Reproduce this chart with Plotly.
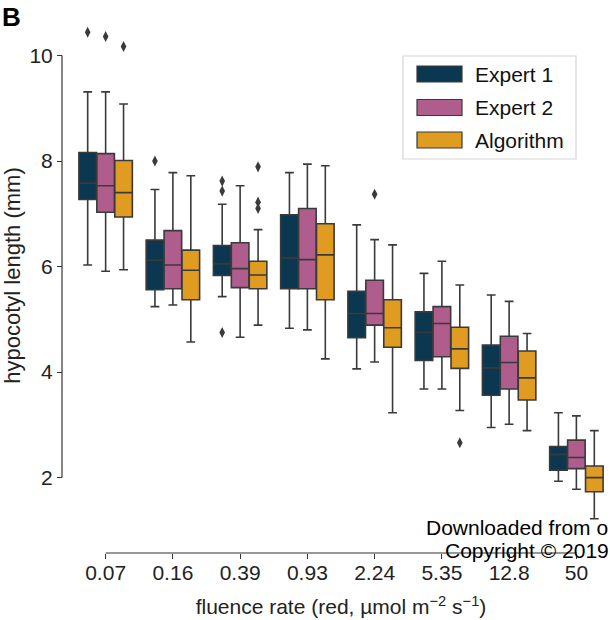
import plotly.graph_objects as go

# ---------------- data ----------------
categories = ["0.07", "0.16", "0.39", "0.93", "2.24", "5.35", "12.8", "50"]
series_names = ["Expert 1", "Expert 2", "Algorithm"]

e1_lower = [6.03, 5.24, 5.43, 4.83, 4.06, 3.68, 2.95, 1.93]
e1_q1 = [7.27, 5.56, 5.83, 5.58, 4.65, 4.22, 3.56, 2.14]
e1_median = [7.58, 6.12, 6.05, 6.16, 5.11, 4.75, 4.08, 2.44]
e1_q3 = [8.16, 6.50, 6.40, 6.98, 5.53, 5.14, 4.51, 2.59]
e1_upper = [9.31, 7.46, 7.18, 7.78, 6.79, 5.87, 5.46, 3.23]
e1_out_cat = [0, 1, 2, 2, 2]
e1_out_val = [10.44, 8.00, 7.62, 7.43, 4.75]

e2_lower = [5.91, 5.27, 4.66, 4.80, 4.19, 3.68, 3.01, 1.78]
e2_q1 = [7.03, 5.58, 5.60, 5.58, 4.89, 4.29, 3.68, 2.17]
e2_median = [7.53, 6.03, 5.96, 6.13, 5.11, 4.92, 4.18, 2.38]
e2_q3 = [8.14, 6.68, 6.45, 7.10, 5.74, 5.24, 4.68, 2.71]
e2_upper = [9.31, 7.78, 7.53, 7.94, 6.51, 6.10, 5.34, 3.17]
e2_out_cat = [0, 4]
e2_out_val = [10.36, 7.37]

alg_lower = [5.94, 4.57, 4.89, 4.25, 3.23, 3.27, 2.89, 1.22]
alg_q1 = [6.94, 5.37, 5.58, 5.37, 4.47, 4.07, 3.47, 1.73]
alg_median = [7.40, 5.93, 5.84, 6.22, 4.84, 4.44, 3.89, 2.00]
alg_q3 = [8.01, 6.31, 6.10, 6.81, 5.37, 4.85, 4.40, 2.22]
alg_upper = [9.08, 7.72, 6.70, 7.91, 6.41, 5.65, 4.73, 2.89]
alg_out_cat = [0, 2, 2, 2, 5]
alg_out_val = [10.17, 7.89, 7.22, 7.10, 2.66]

y_ticks = [2, 4, 6, 8, 10]

# ---------------- style ----------------
colors = ["#0b3850", "#ae5d8d", "#df9c20"]
edge = "#3a3a3a"
axis_col = "#333333"
FONT = "Liberation Sans, Arial, sans-serif"

W, H = 610, 620
ML, MR, MT, MB = 62, 0, 8, 67
PW, PH = W - ML - MR, H - MT - MB
x_dom0 = 10 / PW
y_dom0 = 10 / PH

group_w = 0.8
n = len(series_names)
box_w = group_w / n * 0.98

stats = [
    (e1_lower, e1_q1, e1_median, e1_q3, e1_upper, e1_out_cat, e1_out_val),
    (e2_lower, e2_q1, e2_median, e2_q3, e2_upper, e2_out_cat, e2_out_val),
    (alg_lower, alg_q1, alg_median, alg_q3, alg_upper, alg_out_cat, alg_out_val),
]

fig = go.Figure()
for j, (lo, q1, med, q3, up, oc, ov) in enumerate(stats):
    off = (j - (n - 1) / 2) * group_w / n
    xs = [i + off for i in range(len(categories))]
    fig.add_trace(go.Box(
        x=xs, q1=q1, median=med, q3=q3, lowerfence=lo, upperfence=up,
        name=series_names[j], width=box_w, whiskerwidth=0.5,
        fillcolor=colors[j], line=dict(color=edge, width=1.6),
        boxpoints=False, showlegend=False, hoverinfo="skip",
    ))
    fig.add_trace(go.Scatter(
        x=[c + off for c in oc], y=ov, mode="markers",
        marker=dict(symbol="diamond-tall", size=8, color=edge),
        showlegend=False, hoverinfo="skip",
    ))


def px_x(p):
    return (p - ML) / PW


def px_y(p):
    return (H - MB - p) / PH


shapes = [
    # trimmed, offset spines
    dict(type="line", xref="paper", yref="y", x0=0, x1=0, y0=y_ticks[0], y1=y_ticks[-1],
         line=dict(color=axis_col, width=1.2)),
    dict(type="line", xref="x", yref="paper", x0=0, x1=len(categories) - 1, y0=0, y1=0,
         line=dict(color=axis_col, width=1.2)),
    # legend frame
    dict(type="rect", xref="paper", yref="paper", x0=px_x(403), x1=px_x(576),
         y0=px_y(159), y1=px_y(56), line=dict(color="#d6d6d6", width=1.2),
         fillcolor="rgba(255,255,255,0.8)", layer="above"),
]
annotations = []
rows = [74, 107.5, 140]
for j, name in enumerate(series_names):
    shapes.append(dict(type="rect", xref="paper", yref="paper",
                       x0=px_x(417), x1=px_x(462), y0=px_y(rows[j] + 8), y1=px_y(rows[j] - 8),
                       fillcolor=colors[j], line=dict(color=edge, width=1.2), layer="above"))
    annotations.append(dict(text=name, xref="paper", yref="paper", x=px_x(473), y=px_y(rows[j]),
                            xanchor="left", yanchor="middle", showarrow=False,
                            font=dict(size=21, color="#111", family=FONT)))

annotations += [
    dict(text="<b>B</b>", xref="paper", yref="paper", x=px_x(0), y=px_y(17),
         xanchor="left", yanchor="middle", showarrow=False,
         font=dict(size=26, color="#000", family=FONT)),
    dict(text="Downloaded from o", xref="paper", yref="paper", x=px_x(424), y=px_y(527),
         xanchor="left", yanchor="middle", showarrow=False,
         font=dict(size=21, color="#000", family=FONT)),
    dict(text="Copyright © 2019", xref="paper", yref="paper", x=px_x(443), y=px_y(550),
         xanchor="left", yanchor="middle", showarrow=False,
         font=dict(size=21, color="#000", family=FONT)),
]

fig.update_layout(
    width=W, height=H, margin=dict(l=ML, r=MR, t=MT, b=MB, pad=0),
    plot_bgcolor="white", paper_bgcolor="white",
    font=dict(family=FONT, size=21, color="#222"),
    shapes=shapes, annotations=annotations, showlegend=False,
    xaxis=dict(domain=[x_dom0, 1], anchor="free", position=0, range=[-0.5, 7.5],
               tickmode="array", tickvals=list(range(len(categories))), ticktext=categories,
               ticks="outside", ticklen=5, tickwidth=1.2, tickcolor=axis_col,
               ticklabelstandoff=-4,
               showline=False, showgrid=False, zeroline=False,
               tickfont=dict(size=21, color="#222"),
               title=dict(text="fluence rate (red, µmol m<sup>−2</sup> s<sup>−1</sup>)",
                          font=dict(size=21, color="#222"), standoff=16)),
    yaxis=dict(domain=[y_dom0, 1], anchor="free", position=0, range=[0.76, 10.90],
               tickmode="array", tickvals=y_ticks,
               ticks="outside", ticklen=5, tickwidth=1.2, tickcolor=axis_col,
               showline=False, showgrid=False, zeroline=False,
               tickfont=dict(size=21, color="#222"),
               title=dict(text="hypocotyl length (mm)", font=dict(size=22, color="#222"),
                          standoff=5)),
)

fig.write_html("out.html", config={"displayModeBar": False},
               post_script="document.body.style.margin='0';")
